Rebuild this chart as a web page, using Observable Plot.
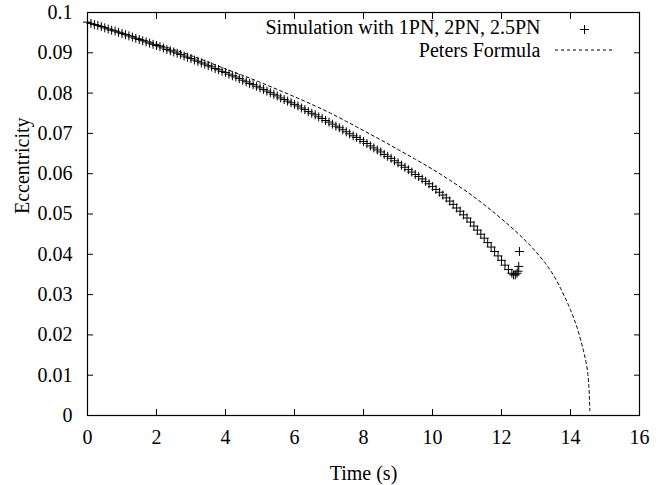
<!DOCTYPE html>
<html>
<head>
<meta charset="utf-8">
<script src="https://cdn.jsdelivr.net/npm/d3@7"></script>
<script src="https://cdn.jsdelivr.net/npm/@observablehq/plot@0.6"></script>
<style>
  html, body { margin: 0; padding: 0; background: #fff; }
  #chart { width: 672px; height: 485px; }
</style>
</head>
<body>
<div id="chart"></div>
<script>
// Simulation with 1PN, 2PN, 2.5PN (time in s, eccentricity)
const simTime = [
  0.0,0.1,0.2,0.3,0.4,0.5,0.6,0.7,0.8,0.9,
  1.0,1.1,1.2,1.3,1.4,1.5,1.6,1.7,1.8,1.9,
  2.0,2.1,2.2,2.3,2.4,2.5,2.6,2.7,2.8,2.9,
  3.0,3.1,3.2,3.3,3.4,3.5,3.6,3.7,3.8,3.9,
  4.0,4.1,4.2,4.3,4.4,4.5,4.6,4.7,4.8,4.9,
  5.0,5.1,5.2,5.3,5.4,5.5,5.6,5.7,5.8,5.9,
  6.0,6.1,6.2,6.3,6.4,6.5,6.6,6.7,6.8,6.9,
  7.0,7.1,7.2,7.3,7.4,7.5,7.6,7.7,7.8,7.9,
  8.0,8.1,8.2,8.3,8.4,8.5,8.6,8.7,8.8,8.9,
  9.0,9.1,9.2,9.3,9.4,9.5,9.6,9.7,9.8,9.9,
  10.0,10.1,10.2,10.3,10.4,10.5,10.6,10.7,10.8,10.9,
  11.0,11.1,11.2,11.3,11.4,11.5,11.6,11.7,11.8,11.9,
  12.0,12.1,12.2,12.3,12.35,12.4,12.45,12.48,12.5,12.52
];
const simEcc = [
  0.0976,0.0973,0.0970,0.0968,0.0965,0.0962,0.0959,0.0956,0.0954,0.0951,
  0.0948,0.0945,0.0942,0.0939,0.0936,0.0933,0.0930,0.0927,0.0924,0.0921,
  0.0918,0.0915,0.0912,0.0908,0.0905,0.0902,0.0899,0.0896,0.0892,0.0889,
  0.0886,0.0882,0.0879,0.0875,0.0872,0.0868,0.0865,0.0861,0.0858,0.0854,
  0.0851,0.0847,0.0843,0.0840,0.0836,0.0832,0.0828,0.0824,0.0821,0.0817,
  0.0813,0.0809,0.0805,0.0801,0.0797,0.0793,0.0788,0.0784,0.0780,0.0776,
  0.0772,0.0768,0.0763,0.0759,0.0754,0.0750,0.0746,0.0741,0.0737,0.0732,
  0.0728,0.0723,0.0718,0.0714,0.0709,0.0704,0.0699,0.0694,0.0690,0.0685,
  0.0680,0.0675,0.0669,0.0664,0.0659,0.0654,0.0648,0.0643,0.0638,0.0632,
  0.0627,0.0621,0.0616,0.0610,0.0604,0.0598,0.0593,0.0587,0.0581,0.0575,
  0.0568,0.0561,0.0554,0.0547,0.0540,0.0532,0.0524,0.0515,0.0507,0.0498,
  0.0490,0.0480,0.0470,0.0460,0.0450,0.0440,0.0429,0.0418,0.0407,0.0396,
  0.0385,0.0373,0.0362,0.0353,0.0349,0.0349,0.0353,0.0358,0.0370,0.0407
];

// Peters Formula
const petersTime = [
  0,0.5,1.0,1.5,2.0,2.5,3.0,3.5,4.0,4.5,5.0,5.5,6.0,6.5,7.0,7.5,8.0,8.5,9.0,9.5,
  10.0,10.5,11.0,11.5,12.0,12.5,13.0,13.25,13.5,13.75,14.0,14.1,14.2,14.3,14.4,14.45,14.5,14.53,14.55,14.56
];
const petersEcc = [
  0.0976,0.0963,0.0950,0.0936,0.0922,0.0908,0.0893,0.0877,0.0860,0.0844,
  0.0827,0.0809,0.0791,0.0772,0.0752,0.0730,0.0707,0.0684,0.0660,0.0636,
  0.0611,0.0584,0.0555,0.0523,0.0488,0.0450,0.0406,0.0380,0.0349,0.0309,
  0.0262,0.0240,0.0216,0.0186,0.0152,0.0132,0.0105,0.0075,0.0040,0.0012
];

const xTicks = [0,2,4,6,8,10,12,14,16];
const xTickLabels = ["0","2","4","6","8","10","12","14","16"];
const yTicks = [0,0.01,0.02,0.03,0.04,0.05,0.06,0.07,0.08,0.09,0.1];
const yTickLabels = ["0","0.01","0.02","0.03","0.04","0.05","0.06","0.07","0.08","0.09","0.1"];
const seriesNames = ["Simulation with 1PN, 2PN, 2.5PN", "Peters Formula"];
const axisTitles = ["Time (s)", "Eccentricity"];

const sim = simTime.map((t, i) => ({t, e: simEcc[i]}));
const peters = petersTime.map((t, i) => ({t, e: petersEcc[i]}));

const W = 672, H = 485;
const mL = 87, mR = 33, mT = 12, mB = 70;
const font = "'Liberation Serif', 'Times New Roman', serif";

const dashSample = (index, scales, values, dim) => {
  const xr = dim.width - dim.marginRight;
  const y = dim.marginTop + 38;
  return d3.create("svg:line")
    .attr("x1", xr - 84).attr("x2", xr - 27)
    .attr("y1", y).attr("y2", y)
    .attr("stroke", "#000").attr("stroke-width", 1)
    .attr("stroke-dasharray", "3,3")
    .node();
};

const chart = Plot.plot({
  width: W, height: H,
  marginLeft: mL, marginRight: mR, marginTop: mT, marginBottom: mB,
  style: {fontFamily: font, fontSize: "20px", color: "#000", background: "#fff"},
  x: {domain: [0, 16], axis: null},
  y: {domain: [0, 0.1], axis: null},
  marks: [
    Plot.line(peters, {x: "t", y: "e", stroke: "#000", strokeWidth: 1, strokeDasharray: "3,3", curve: "monotone-x"}),
    Plot.dot(sim, {x: "t", y: "e", symbol: "plus", r: 3, stroke: "#000", strokeWidth: 1}),
    // inward ticks on all four sides
    Plot.axisX({anchor: "bottom", ticks: xTicks, tickSize: -6, tickFormat: () => "", label: null}),
    Plot.axisX({anchor: "top", ticks: xTicks, tickSize: -6, tickFormat: () => "", label: null}),
    Plot.axisY({anchor: "left", ticks: yTicks, tickSize: -6, tickFormat: () => "", label: null}),
    Plot.axisY({anchor: "right", ticks: yTicks, tickSize: -6, tickFormat: () => "", label: null}),
    // tick labels
    Plot.axisX({anchor: "bottom", ticks: xTicks, tickSize: 0, tickPadding: 14,
      tickFormat: (d, i) => xTickLabels[i], label: null, fontSize: 20}),
    Plot.axisY({anchor: "left", ticks: yTicks, tickSize: 0, tickPadding: 15,
      tickFormat: (d, i) => yTickLabels[i], label: null, fontSize: 20}),
    Plot.frame({stroke: "#000", strokeWidth: 1.2}),
    // axis titles
    Plot.text([axisTitles[0]], {frameAnchor: "bottom", dy: 58, lineAnchor: "middle", fontSize: 20, fill: "#000"}),
    Plot.text([axisTitles[1]], {frameAnchor: "left", dx: -65, rotate: -90, lineAnchor: "middle", fontSize: 20, fill: "#000"}),
    // legend
    Plot.text([seriesNames[0]], {frameAnchor: "top-right", dx: -99, dy: 15, textAnchor: "end", lineAnchor: "middle", fontSize: 20, fill: "#000"}),
    Plot.text([seriesNames[1]], {frameAnchor: "top-right", dx: -99, dy: 38, textAnchor: "end", lineAnchor: "middle", fontSize: 20, fill: "#000"}),
    Plot.dot([seriesNames[0]], {frameAnchor: "top-right", dx: -55, dy: 17, symbol: "plus", r: 3, stroke: "#000", strokeWidth: 1}),
    dashSample
  ]
});
document.getElementById("chart").appendChild(chart);
</script>
</body>
</html>
